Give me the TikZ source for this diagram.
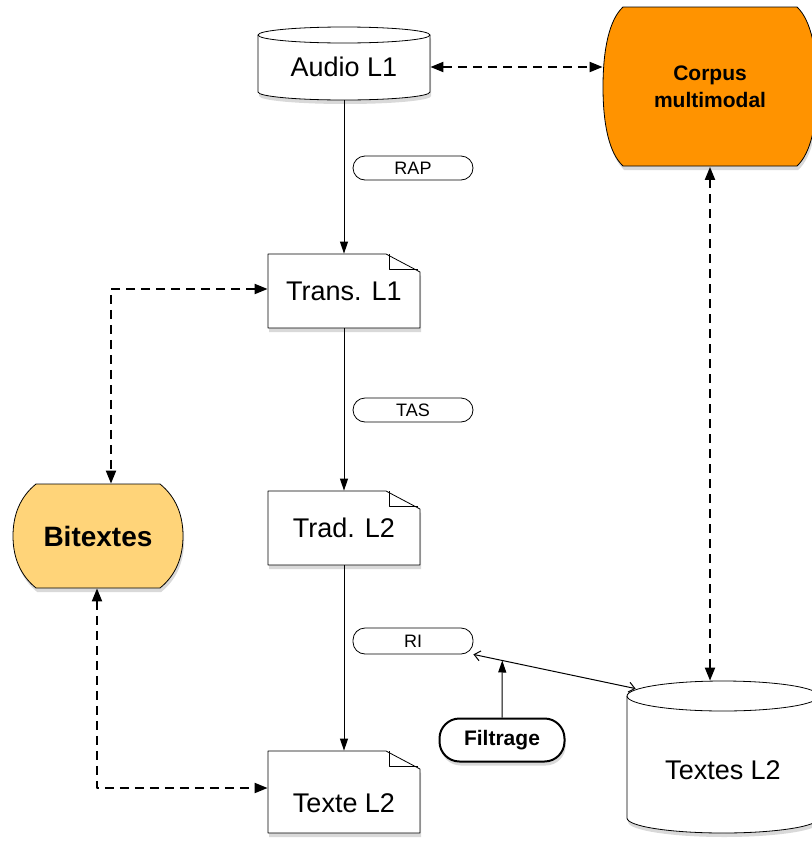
\documentclass[tikz,border=0pt]{standalone}
\usepackage{fontspec}
\setmainfont{Liberation Sans}
\usetikzlibrary{arrows.meta,calc,shadows}
\definecolor{orangec}{HTML}{FF9300}
\definecolor{melon}{HTML}{FFD479}
\tikzset{
	ombre/.style={drop shadow={shadow xshift=0.6pt, shadow yshift=-2pt, opacity=0.3}},
	boite/.style={inner sep=0pt, font=\fontsize{13.5}{16}\selectfont},
	pilule/.style={draw, fill=white, rounded corners=6pt, minimum width=60pt, minimum height=12pt, inner sep=0pt, font=\fontsize{9}{11}\selectfont},
	fleche/.style={->, line width=0.5pt},
	tiret/.style={{Triangle[length=6.5pt,width=5pt]}-{Triangle[length=6.5pt,width=5pt]}, line width=1pt, dash pattern=on 4.5pt off 3pt},
	fin/.style={{Straight Barb[length=3pt,width=5pt]}-{Straight Barb[length=3pt,width=5pt]}, line width=0.5pt}
}
\begin{document}
\begin{tikzpicture}[x=0.5pt, y=-0.5pt, line join=round, >={Triangle[length=6pt,width=4pt]}]
	\useasboundingbox (0,0) rectangle (811,841);
	% Audio L1 (cylindre)
	\draw[fill=white, ombre] (258,35) -- (258,92) arc[start angle=180, end angle=0, x radius=86, y radius=8] -- (430,35) arc[start angle=0, end angle=-180, x radius=86, y radius=8] -- cycle;
	\draw (258,35) arc[start angle=180, end angle=0, x radius=86, y radius=8];
	\node[boite, minimum width=86pt, minimum height=33pt] (audio) at (344,67) {Audio L1};
	% Corpus multimodal
	\draw[fill=orangec, ombre] (623,7) -- (797,7) .. controls (811,20) and (817,50) .. (817,87) .. controls (817,124) and (811,153) .. (797,166) -- (623,166) .. controls (609,153) and (603,124) .. (603,87) .. controls (603,50) and (609,20) .. (623,7) -- cycle;
	\node[inner sep=0pt, align=center, minimum width=107pt, minimum height=79.5pt, font=\fontsize{10.5}{13.3}\selectfont\bfseries] (corpus) at (710,87) {Corpus\\multimodal};
	% documents
	\draw[fill=white, ombre] (268,254) -- (386,254) -- (420,272) -- (420,328) -- (268,328) -- cycle;
	\draw (389,254) -- (389,269) -- (418,269);
	\node[boite, minimum width=76pt, minimum height=37pt] (trans) at (344,291) {Trans. L1};
	\draw[fill=white, ombre] (268,491) -- (386,491) -- (420,509) -- (420,565) -- (268,565) -- cycle;
	\draw (389,491) -- (389,506) -- (418,506);
	\node[boite, minimum width=76pt, minimum height=37pt] (trad) at (344,528) {Trad. L2};
	\draw[fill=white, ombre] (268,751) -- (386,751) -- (420,769) -- (420,833) -- (268,833) -- cycle;
	\draw (389,751) -- (389,766) -- (418,766);
	\node[boite, minimum width=76pt, minimum height=41pt] (texte) at (344,792) {};
	\node[boite] (texte-nom) at (344,803) {Texte L2};
	% Bitextes
	\draw[fill=melon, ombre] (36,484) -- (160,484) .. controls (176,497) and (183,515) .. (183,536) .. controls (183,557) and (176,575) .. (160,588) -- (36,588) .. controls (20,575) and (13,557) .. (13,536) .. controls (13,515) and (20,497) .. (36,484) -- cycle;
	\node[inner sep=0pt, minimum width=85pt, minimum height=52pt, font=\fontsize{14}{16}\selectfont\bfseries] (bitextes) at (98,536) {Bitextes};
	% Textes L2 (cylindre)
	\draw[fill=white, ombre] (627,696) -- (627,818) arc[start angle=180, end angle=0, x radius=96, y radius=15] -- (819,696) arc[start angle=0, end angle=-180, x radius=96, y radius=15] -- cycle;
	\draw (627,696) arc[start angle=180, end angle=0, x radius=96, y radius=15];
	\node[boite, minimum width=96pt, minimum height=76pt] (textes) at (723,757) {};
	\node[boite] (textes-nom) at (723,770) {Textes L2};
	% etapes
	\node[pilule] (rap) at (413,168) {RAP};
	\node[pilule] (tas) at (413,410) {TAS};
	\node[pilule, minimum height=13pt] (ri) at (413,641) {RI};
	\node[draw, fill=white, ombre, line width=1pt, rounded corners=10pt, minimum width=62.5pt, minimum height=21.5pt, inner sep=0pt, font=\fontsize{10.5}{12}\selectfont\bfseries] (filtrage) at (502,740) {Filtrage};
	% liens
	\draw[fleche] (audio) -- (trans);
	\draw[fleche] (trans) -- (trad);
	\draw[fleche] (trad) -- (texte);
	\draw[tiret] (audio.east) -- (corpus.west |- audio.east);
	\draw[tiret] (corpus.south) -- (corpus.south |- textes.north);
	\draw[tiret] ([yshift=1pt]trans.west) -| ([xshift=6.5pt]bitextes.north);
	\draw[tiret] ([xshift=-0.5pt]bitextes.south) |- ([yshift=2pt]texte.west);
	\coordinate (ri-fin) at ($(textes.north west)+(9,8)$);
	\draw[fin] (ri.south east) -- (ri-fin);
	\draw[fleche] (filtrage.north) -- ($(ri.south east)!0.178!(ri-fin)$);
\end{tikzpicture}
\end{document}
